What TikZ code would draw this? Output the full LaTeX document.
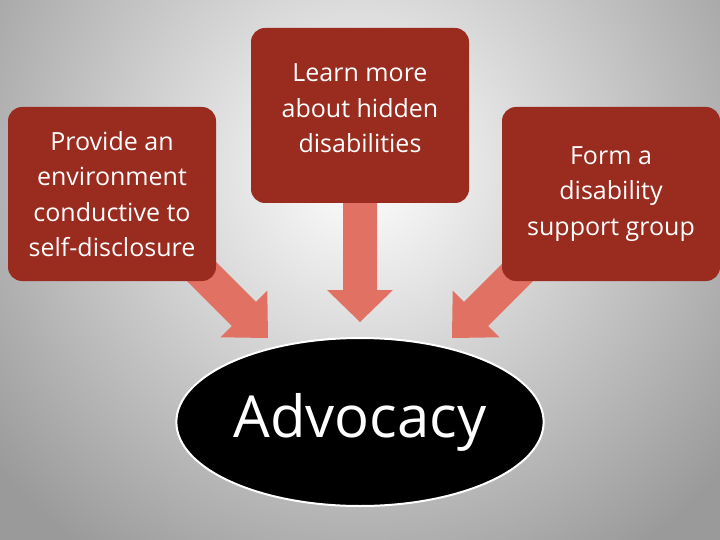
\documentclass[tikz,border=0pt]{standalone}
\usepackage{fontspec}
\setmainfont{Open Sans}
\usetikzlibrary{shapes.geometric}
\definecolor{boxred}{HTML}{992B1F}
\definecolor{arr}{HTML}{E07163}
\definecolor{bgout}{HTML}{9A9A9A}
\begin{document}
\begin{tikzpicture}[x=1pt,y=-1pt,
  box/.style={draw=none,fill=boxred,rounded corners=14pt,text=white,align=center,font=\fontsize{25}{35.5}\selectfont,inner sep=0pt},
  blk/.style={fill=arr,draw=none}]
\useasboundingbox (0,0) rectangle (720,540);
\begin{scope}
\clip (0,0) rectangle (720,540);
\fill[bgout] (0,0) rectangle (720,540);
\shade[inner color=white,outer color=bgout] (360,170) circle (470);
\end{scope}
% arrows
\begin{scope}[shift={(360,322)}]
\fill[blk] (-17,-130) -- (17,-130) -- (17,-32) -- (33,-32) -- (0,0) -- (-33,-32) -- (-17,-32) -- cycle;
\end{scope}
\begin{scope}[shift={(268,338)},rotate=45]
\fill[blk] (-17,-120) -- (17,-120) -- (17,-34) -- (33,-34) -- (0,0) -- (-33,-34) -- (-17,-34) -- cycle;
\end{scope}
\begin{scope}[shift={(452,338)},rotate=-45]
\fill[blk] (-17,-120) -- (17,-120) -- (17,-34) -- (33,-34) -- (0,0) -- (-33,-34) -- (-17,-34) -- cycle;
\end{scope}
\node[box,minimum width=208pt,minimum height=174pt] (l) at (112,194) {Provide an\\environment\\conductive to\\self-disclosure};
\node[box,minimum width=218pt,minimum height=175pt] (m) at (360,115.5) {};
\node[text=white,align=center,font=\fontsize{25}{35.5}\selectfont,anchor=north,inner sep=0pt] (mt) at (m.north) [yshift=-36pt] {Learn more\\about hidden\\disabilities};
\node[box,minimum width=218pt,minimum height=174pt] (r) at (611,194) {Form a\\disability\\support group};
\node[ellipse,draw=white,line width=2pt,fill=black,minimum width=358pt,minimum height=168pt,text=white,font=\fontsize{58}{64}\selectfont] (a) at (360,422) {Advocacy};
\end{tikzpicture}
\end{document}
